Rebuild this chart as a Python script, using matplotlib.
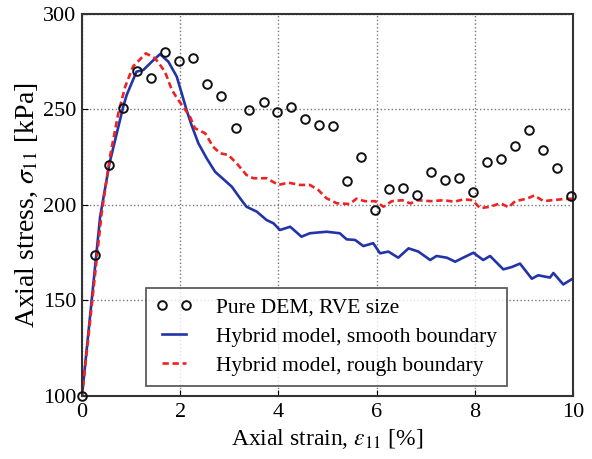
import matplotlib
matplotlib.use("Agg")
import matplotlib.pyplot as plt

plt.rcParams['font.family'] = ['Liberation Serif', 'DejaVu Serif']
plt.rcParams['mathtext.fontset'] = 'stix'

# Pure DEM, RVE size
dem_strain = [0.0, 0.27, 0.56, 0.83, 1.13, 1.41, 1.70, 1.98, 2.27, 2.55, 2.84, 3.13,
              3.41, 3.70, 3.98, 4.26, 4.55, 4.83, 5.12, 5.40, 5.68, 5.97, 6.25, 6.54,
              6.82, 7.11, 7.39, 7.68, 7.96, 8.25, 8.53, 8.81, 9.10, 9.38, 9.67, 9.96]
dem_stress = [100, 174, 221, 251, 270, 266.5, 280, 275.6, 276.8, 263.2, 257.2, 240.5,
              249.7, 253.9, 248.7, 251.1, 245.2, 241.9, 241.5, 212.6, 225.1, 197.4, 208.5, 208.7,
              205.4, 217.3, 212.9, 214.3, 206.8, 222.7, 224.2, 230.7, 239.3, 228.6, 219.2, 204.9]

# Hybrid model, smooth boundary
smooth_strain = [0.0, 0.37, 0.56, 0.84, 0.91, 1.11, 1.25, 1.42, 1.59, 1.76, 1.93, 2.03,
                 2.13, 2.23, 2.37, 2.54, 2.71, 2.88, 3.05, 3.22, 3.35, 3.56, 3.76, 3.90,
                 4.03, 4.24, 4.47, 4.64, 4.98, 5.25, 5.39, 5.56, 5.73, 5.93, 6.07, 6.24,
                 6.44, 6.65, 6.85, 7.09, 7.22, 7.43, 7.60, 7.73, 7.97, 8.17, 8.31, 8.58,
                 8.75, 8.92, 9.16, 9.29, 9.53, 9.60, 9.80, 9.99]
smooth_stress = [100, 194, 221.8, 251.5, 257.6, 269.8, 270.7, 275, 279, 275, 267.2, 258.5,
                 249.7, 241.9, 232.3, 224.4, 217.4, 213.5, 209.6, 203.5, 199.1, 196.5, 192.1, 190.4,
                 186.9, 188.6, 183.4, 185.2, 186, 185.2, 182, 181.7, 178.5, 180, 174.7, 175.6,
                 172.4, 177.3, 175.6, 171.2, 173.3, 172.4, 170.3, 172, 175, 171.2, 173.3, 166.3,
                 167.5, 169.3, 161.4, 163.2, 162, 164.4, 158.4, 161.4]

# Hybrid model, rough boundary
rough_strain = [0.0, 0.40, 0.57, 0.74, 0.88, 1.04, 1.30, 1.49, 1.69, 1.83, 1.96, 2.06,
                2.20, 2.30, 2.51, 2.67, 2.81, 2.98, 3.15, 3.35, 3.49, 3.76, 4.00, 4.20,
                4.44, 4.64, 4.81, 4.98, 5.19, 5.45, 5.59, 5.76, 5.97, 6.14, 6.31, 6.52,
                6.69, 6.83, 7.10, 7.37, 7.58, 7.78, 7.95, 8.11, 8.31, 8.52, 8.69, 8.82,
                9.06, 9.21, 9.40, 9.57, 9.77, 9.99]
rough_stress = [100, 195.7, 225.3, 248, 262, 272.5, 279.4, 276.8, 269.8, 260.2, 255, 251.5,
                246.2, 240.2, 237.5, 230.5, 227.1, 226.2, 221.8, 215.7, 214, 214, 210.5, 211.7,
                210.5, 210.5, 207.9, 203.5, 200.9, 200.5, 203.3, 202, 202, 199.1, 202, 202.5,
                200.8, 202.5, 202, 202.5, 201.7, 203, 202.5, 198.3, 199.1, 200.9, 198.8, 202,
                203.3, 205, 202, 202.5, 203, 203.3]

x_ticks = [0, 2, 4, 6, 8, 10]
y_ticks = [100, 150, 200, 250, 300]

fig = plt.figure(figsize=(5.92, 4.59), dpi=100)
ax = fig.add_axes([0.1385, 0.1373, 0.8295, 0.8322])

ax.plot(dem_strain, dem_stress, linestyle='none', marker='o', markersize=6.2,
        markerfacecolor='none', markeredgecolor='#111111', markeredgewidth=1.4,
        label='Pure DEM, RVE size', clip_on=False, zorder=3)
ax.plot(smooth_strain, smooth_stress, color='#2234a8', linewidth=1.9,
        label='Hybrid model, smooth boundary', zorder=2)
ax.plot(rough_strain, rough_stress, color='#ee2222', linewidth=1.9, linestyle=(0, (2.4, 1.4)),
        label='Hybrid model, rough boundary', zorder=2)

ax.set_xlim(0, 10)
ax.set_ylim(100, 300)
ax.set_xticks(x_ticks)
ax.set_yticks(y_ticks)
ax.tick_params(direction='in', length=4, labelsize=16, colors='black')
ax.tick_params(axis='x', pad=5)
ax.tick_params(axis='y', pad=4)
ax.grid(True, linestyle=':', color='#777777', linewidth=1)
for s in ax.spines.values():
    s.set_linewidth(1.5)
    s.set_color('#333333')

ax.set_xlabel(r'Axial strain, $\varepsilon_{11}$ [%]', fontsize=17, labelpad=4)
ax.set_ylabel(r'Axial stress, $\sigma_{11}$ [kPa]', fontsize=20, labelpad=2)

leg = ax.legend(loc='lower left', bbox_to_anchor=(0.131, 0.027), numpoints=2,
                fontsize=15.5, frameon=True, fancybox=False, edgecolor='#333333',
                handlelength=1.7, handletextpad=1.1, borderpad=0.45, labelspacing=0.42,
                borderaxespad=0)
leg.get_frame().set_linewidth(1.3)

fig.savefig('out.png', dpi=100)
